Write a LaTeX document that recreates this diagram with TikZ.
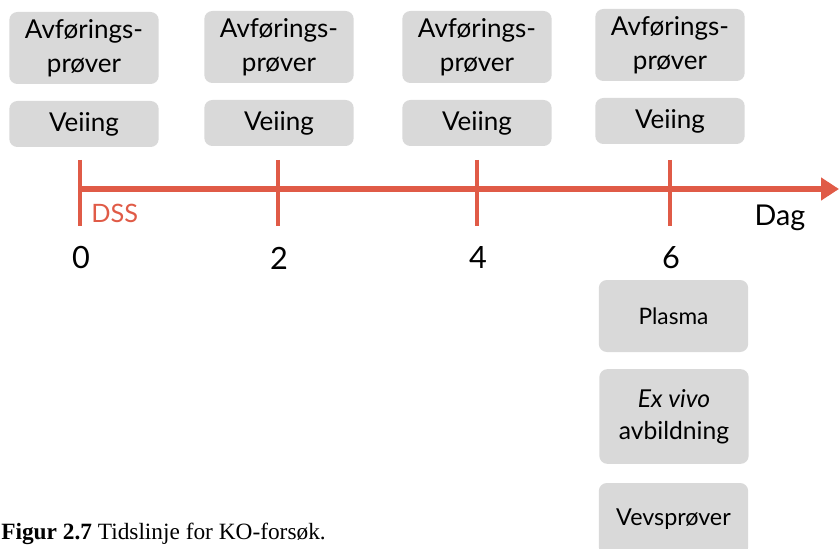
\documentclass[tikz,border=0pt]{standalone}
\usepackage{fontspec}
\setmainfont{Lato}
\newfontfamily\capfont{Liberation Serif}
\usepackage{xcolor}
\usetikzlibrary{arrows.meta}
\definecolor{lineR}{HTML}{E05B47}
\definecolor{boxG}{HTML}{D9D9D9}
\tikzset{
  taskbox/.style={fill=boxG, rounded corners=6pt, align=center,
    minimum width=112pt, inner sep=0pt, font=\fontsize{19.5}{25.5}\selectfont},
}

\begin{document}
\begin{tikzpicture}[x=0.75pt, y=-0.75pt]
  \useasboundingbox (0,0) rectangle (839,549);
  \clip (0,0) rectangle (839,549);
  % time axis
  \coordinate (t0) at (80,189);
  \coordinate (tend) at (839,189);
  \draw[lineR, line width=4.6pt, -{Triangle[length=13.5pt,width=16.5pt]}] (t0) -- (tend);
  % per day: day, tick x, box x, sample box y, weighing box y
  \foreach \d/\x/\bx/\sy/\wy in {0/80/84/48/124, 2/278/279/47/123,
      4/477/477/47/123, 6/670/670/45/121}{
    \draw[lineR, line width=3.6pt] (\x,160) -- (\x,226);
    \node[font=\fontsize{23}{26}\selectfont] (day\d) at (\x+1,258) {\d};
    \node[taskbox, minimum height=54pt] (prove\d) at (\bx,\sy) {Avførings-\\prøver};
    \node[taskbox, minimum height=34.5pt] (veiing\d) at (\bx,\wy) {Veiing};
  }
  \node[lineR, anchor=west, inner sep=0pt, font=\fontsize{19}{22}\selectfont] (dss) at (91,213) {DSS};
  \node[font=\fontsize{21.5}{24}\selectfont] (dag) at (780,218) {Dag};
  % end of experiment
  \node[taskbox, minimum height=54pt, font=\fontsize{17}{21}\selectfont] (plasma) at (673.5,316) {Plasma};
  \node[taskbox, minimum height=71pt, font=\fontsize{18.5}{24}\selectfont] (exvivo) at (674,416.5) {\textit{Ex vivo}\\avbildning};
  \node[taskbox, minimum height=54pt, font=\fontsize{17.5}{21}\selectfont] (vev) at (673.5,519) {Vevsprøver};
  % caption
  \node[anchor=base west, inner sep=0pt, font=\capfont\fontsize{17.5}{20}\selectfont] (caption)
     at (1,539) {\textbf{Figur 2.7} Tidslinje for KO-forsøk.};
\end{tikzpicture}
\end{document}
